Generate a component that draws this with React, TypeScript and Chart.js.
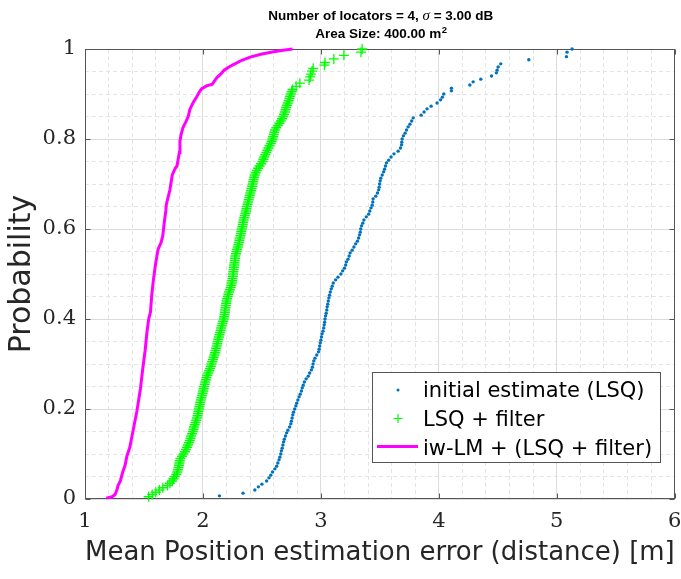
import React, { useEffect, useRef } from 'react';
import { Chart, registerables } from 'chart.js';

Chart.register(...registerables);

// ---------- data (x = mean position error [m], y = cumulative probability) ----------
const seriesNames = ['initial estimate (LSQ)', 'LSQ + filter', 'iw-LM + (LSQ + filter)'];
const titleLine1a = 'Number of locators = 4, ';
const titleSigma = 'σ';
const titleLine1b = ' = 3.00 dB';
const titleLine2 = 'Area Size: 400.00 m';
const titleSup = '2';
const xAxisTitle = 'Mean Position estimation error (distance) [m]';
const yAxisTitle = 'Probability';
const xMajorTicks = [1, 2, 3, 4, 5, 6];
const yMajorTicks = [0, 0.2, 0.4, 0.6, 0.8, 1];
const yTickLabels = ['0', '0.2', '0.4', '0.6', '0.8', '1'];

const initialEstimate: number[][] = [
  [2.14, 0.007], [2.34, 0.013], [2.44, 0.02], [2.47, 0.027], [2.5, 0.033], [2.54, 0.04], [2.56, 0.047],
  [2.575, 0.053], [2.59, 0.06], [2.61, 0.067], [2.625, 0.073], [2.635, 0.08], [2.645, 0.087], [2.652, 0.093],
  [2.66, 0.1], [2.665, 0.107], [2.672, 0.113], [2.678, 0.12], [2.684, 0.127], [2.69, 0.133], [2.7, 0.14],
  [2.71, 0.147], [2.72, 0.153], [2.735, 0.16], [2.745, 0.167], [2.75, 0.173], [2.756, 0.18], [2.762, 0.187],
  [2.768, 0.193], [2.778, 0.2], [2.788, 0.207], [2.795, 0.213], [2.805, 0.22], [2.815, 0.227], [2.825, 0.233],
  [2.835, 0.24], [2.842, 0.247], [2.85, 0.253], [2.86, 0.26], [2.875, 0.267], [2.893, 0.273], [2.905, 0.28],
  [2.92, 0.287], [2.928, 0.293], [2.934, 0.3], [2.94, 0.307], [2.95, 0.313], [2.965, 0.32], [2.98, 0.327],
  [2.985, 0.333], [2.99, 0.34], [2.995, 0.347], [3.0, 0.353], [3.005, 0.36], [3.01, 0.367], [3.018, 0.373],
  [3.024, 0.38], [3.028, 0.387], [3.032, 0.393], [3.035, 0.4], [3.04, 0.407], [3.045, 0.413], [3.05, 0.42],
  [3.053, 0.427], [3.058, 0.433], [3.063, 0.44], [3.068, 0.447], [3.073, 0.453], [3.08, 0.46], [3.088, 0.467],
  [3.096, 0.473], [3.105, 0.48], [3.125, 0.487], [3.145, 0.493], [3.17, 0.5], [3.185, 0.507], [3.2, 0.513],
  [3.21, 0.52], [3.217, 0.527], [3.23, 0.533], [3.24, 0.54], [3.248, 0.547], [3.265, 0.553], [3.28, 0.56],
  [3.295, 0.567], [3.31, 0.573], [3.32, 0.58], [3.328, 0.587], [3.334, 0.593], [3.338, 0.6], [3.345, 0.607],
  [3.355, 0.613], [3.365, 0.62], [3.385, 0.627], [3.405, 0.633], [3.415, 0.64], [3.425, 0.647], [3.435, 0.653],
  [3.44, 0.66], [3.443, 0.667], [3.465, 0.673], [3.48, 0.68], [3.49, 0.687], [3.494, 0.693], [3.498, 0.7],
  [3.503, 0.707], [3.508, 0.713], [3.52, 0.72], [3.532, 0.727], [3.54, 0.733], [3.548, 0.74], [3.556, 0.747],
  [3.575, 0.753], [3.595, 0.76], [3.62, 0.767], [3.655, 0.773], [3.675, 0.78], [3.684, 0.787], [3.686, 0.793],
  [3.689, 0.8], [3.7, 0.807], [3.714, 0.813], [3.726, 0.82], [3.74, 0.827], [3.755, 0.833], [3.77, 0.84],
  [3.783, 0.847], [3.85, 0.853], [3.875, 0.86], [3.9, 0.867], [3.935, 0.873], [3.985, 0.88], [4.015, 0.887],
  [4.03, 0.893], [4.042, 0.9], [4.107, 0.907], [4.107, 0.913], [4.263, 0.92], [4.291, 0.927], [4.356, 0.933],
  [4.447, 0.94], [4.488, 0.947], [4.494, 0.953], [4.503, 0.96], [4.525, 0.967], [4.763, 0.976], [5.082, 0.983],
  [5.087, 0.993], [5.13, 1.0],
];

const lsqFilter: number[][] = [
  [1.54, 0.005], [1.57, 0.01], [1.6, 0.015], [1.63, 0.02], [1.66, 0.025], [1.7, 0.03], [1.72, 0.035],
  [1.74, 0.04], [1.75, 0.045], [1.76, 0.05], [1.775, 0.055], [1.782, 0.06], [1.788, 0.065], [1.793, 0.07],
  [1.797, 0.075], [1.8, 0.08], [1.804, 0.085], [1.81, 0.09], [1.822, 0.095], [1.835, 0.1], [1.847, 0.105],
  [1.856, 0.11], [1.864, 0.115], [1.873, 0.12], [1.88, 0.125], [1.888, 0.13], [1.895, 0.135], [1.9, 0.14],
  [1.908, 0.145], [1.914, 0.15], [1.92, 0.155], [1.924, 0.16], [1.93, 0.165], [1.937, 0.17], [1.943, 0.175],
  [1.95, 0.18], [1.954, 0.185], [1.958, 0.19], [1.962, 0.195], [1.966, 0.2], [1.97, 0.205], [1.974, 0.21],
  [1.977, 0.215], [1.982, 0.22], [1.987, 0.225], [1.992, 0.23], [1.997, 0.235], [2.002, 0.24], [2.006, 0.245],
  [2.01, 0.25], [2.015, 0.255], [2.02, 0.26], [2.025, 0.265], [2.03, 0.27], [2.037, 0.275], [2.045, 0.28],
  [2.053, 0.285], [2.06, 0.29], [2.067, 0.295], [2.073, 0.3], [2.079, 0.305], [2.085, 0.31], [2.091, 0.315],
  [2.097, 0.32], [2.102, 0.325], [2.107, 0.33], [2.112, 0.335], [2.117, 0.34], [2.122, 0.345], [2.126, 0.35],
  [2.13, 0.355], [2.135, 0.36], [2.14, 0.365], [2.145, 0.37], [2.15, 0.375], [2.155, 0.38], [2.16, 0.385],
  [2.166, 0.39], [2.171, 0.395], [2.176, 0.4], [2.18, 0.405], [2.183, 0.41], [2.186, 0.415], [2.188, 0.42],
  [2.191, 0.425], [2.194, 0.43], [2.197, 0.435], [2.2, 0.44], [2.205, 0.445], [2.21, 0.45], [2.216, 0.455],
  [2.222, 0.46], [2.228, 0.465], [2.235, 0.47], [2.24, 0.475], [2.245, 0.48], [2.248, 0.485], [2.25, 0.49],
  [2.253, 0.495], [2.255, 0.5], [2.258, 0.505], [2.26, 0.51], [2.263, 0.515], [2.265, 0.52], [2.268, 0.525],
  [2.27, 0.53], [2.273, 0.535], [2.275, 0.54], [2.28, 0.545], [2.285, 0.55], [2.29, 0.555], [2.296, 0.56],
  [2.3, 0.565], [2.305, 0.57], [2.309, 0.575], [2.313, 0.58], [2.318, 0.585], [2.322, 0.59], [2.326, 0.595],
  [2.33, 0.6], [2.334, 0.605], [2.337, 0.61], [2.341, 0.615], [2.345, 0.62], [2.35, 0.625], [2.355, 0.63],
  [2.36, 0.635], [2.365, 0.64], [2.369, 0.645], [2.373, 0.65], [2.378, 0.655], [2.383, 0.66], [2.388, 0.665],
  [2.393, 0.67], [2.398, 0.675], [2.402, 0.68], [2.407, 0.685], [2.412, 0.69], [2.417, 0.695], [2.422, 0.7],
  [2.426, 0.705], [2.43, 0.71], [2.435, 0.715], [2.44, 0.72], [2.447, 0.725], [2.455, 0.73], [2.468, 0.735],
  [2.48, 0.74], [2.493, 0.745], [2.505, 0.75], [2.513, 0.755], [2.52, 0.76], [2.528, 0.765], [2.537, 0.77],
  [2.546, 0.775], [2.555, 0.78], [2.565, 0.785], [2.575, 0.79], [2.583, 0.795], [2.59, 0.8], [2.595, 0.805],
  [2.6, 0.81], [2.605, 0.815], [2.61, 0.82], [2.622, 0.825], [2.635, 0.83], [2.648, 0.835], [2.66, 0.84],
  [2.67, 0.845], [2.68, 0.85], [2.688, 0.855], [2.695, 0.86], [2.7, 0.865], [2.705, 0.87], [2.712, 0.875],
  [2.72, 0.88], [2.727, 0.885], [2.733, 0.89], [2.739, 0.895], [2.745, 0.9], [2.752, 0.905], [2.76, 0.91],
  [2.79, 0.917], [2.822, 0.924], [2.9, 0.931], [2.91, 0.938], [2.915, 0.944], [2.925, 0.951], [2.935, 0.957],
  [3.03, 0.964], [3.035, 0.97], [3.11, 0.978], [3.195, 0.986], [3.34, 0.993], [3.35, 1.0],
];

const iwLM: number[][] = [
  [1.18, 0.002], [1.23, 0.005], [1.255, 0.01], [1.27, 0.02], [1.28, 0.03], [1.3, 0.04], [1.32, 0.06],
  [1.34, 0.075], [1.355, 0.095], [1.38, 0.115], [1.41, 0.155], [1.44, 0.195], [1.455, 0.22], [1.47, 0.245],
  [1.49, 0.29], [1.51, 0.33], [1.525, 0.37], [1.54, 0.4], [1.555, 0.415], [1.565, 0.45], [1.58, 0.487],
  [1.6, 0.525], [1.62, 0.555], [1.645, 0.57], [1.66, 0.585], [1.67, 0.61], [1.685, 0.64], [1.69, 0.655],
  [1.72, 0.687], [1.74, 0.72], [1.765, 0.735], [1.78, 0.74], [1.8, 0.77], [1.805, 0.795], [1.815, 0.81],
  [1.83, 0.825], [1.855, 0.838], [1.875, 0.85], [1.89, 0.866], [1.9, 0.872], [1.92, 0.882], [1.945, 0.893],
  [1.97, 0.905], [1.99, 0.912], [2.03, 0.918], [2.08, 0.922], [2.1, 0.93], [2.12, 0.937], [2.15, 0.944],
  [2.18, 0.953], [2.22, 0.96], [2.27, 0.967], [2.33, 0.975], [2.4, 0.982], [2.5, 0.989], [2.6, 0.994],
  [2.68, 0.997], [2.76, 1.0],
];

// ---------- styles ----------
const BLUE = '#0072BD';
const GREEN = '#00FF00';
const MAGENTA = '#FF00FF';
const AXIS = '#555555';
const TEXT = '#262626';
const GRID_MAJOR = '#dcdcdc';
const GRID_MINOR = '#e4e4e4';

const near = (arr: number[], v: number) => arr.some((t) => Math.abs(t - v) < 1e-6);
const toPts = (a: number[][]) => a.map(([x, y]) => ({ x, y }));

const decorPlugin = {
  id: 'decor',
  beforeDatasetsDraw(chart: any) {
    const { ctx, chartArea, scales } = chart;
    const { left, right, top, bottom } = chartArea;
    ctx.save();
    ctx.strokeStyle = AXIS;
    ctx.lineWidth = 1;
    const L = Math.round(left) + 0.5, R = Math.round(right) - 0.5;
    const T = Math.round(top) + 0.5, B = Math.round(bottom) - 0.5;
    ctx.strokeRect(L, T, R - L, B - T);
    ctx.beginPath();
    const tl = 5;
    xMajorTicks.forEach((v) => {
      const px = Math.round(scales.x.getPixelForValue(v)) + 0.5;
      ctx.moveTo(px, B); ctx.lineTo(px, B - tl);
      ctx.moveTo(px, T); ctx.lineTo(px, T + tl);
    });
    yMajorTicks.forEach((v) => {
      const py = Math.round(scales.y.getPixelForValue(v)) + 0.5;
      ctx.moveTo(L, py); ctx.lineTo(L + tl, py);
      ctx.moveTo(R, py); ctx.lineTo(R - tl, py);
    });
    ctx.stroke();
    ctx.restore();
  },
  afterDraw(chart: any) {
    const { ctx, chartArea } = chart;
    ctx.save();
    // ---- title (two lines, mixed fonts) ----
    const cx = (chartArea.left + chartArea.right) / 2 + 1;
    const bold = 'bold 13.5px "Liberation Sans", Arial, sans-serif';
    const ital = 'italic 15px "Liberation Serif", serif';
    ctx.fillStyle = '#000';
    ctx.textBaseline = 'alphabetic';
    ctx.textAlign = 'left';
    const parts1 = [
      { t: titleLine1a, f: bold },
      { t: titleSigma, f: ital },
      { t: titleLine1b, f: bold },
    ];
    let w1 = 0;
    parts1.forEach((p) => { ctx.font = p.f; w1 += ctx.measureText(p.t).width; });
    let x = cx - w1 / 2;
    parts1.forEach((p) => { ctx.font = p.f; ctx.fillText(p.t, x, 19.5); x += ctx.measureText(p.t).width; });
    const supFont = 'bold 9.5px "Liberation Sans", Arial, sans-serif';
    ctx.font = bold;
    const w2a = ctx.measureText(titleLine2).width;
    ctx.font = supFont;
    const w2b = ctx.measureText(titleSup).width;
    x = cx - (w2a + w2b) / 2;
    ctx.font = bold;
    ctx.fillText(titleLine2, x, 38);
    ctx.font = supFont;
    ctx.fillText(titleSup, x + w2a + 0.5, 32.5);

    // ---- legend ----
    const lx = 372, ly = 372, lw = 288, lh = 90;
    ctx.fillStyle = '#ffffff';
    ctx.fillRect(lx, ly, lw, lh);
    ctx.strokeStyle = AXIS;
    ctx.lineWidth = 1;
    ctx.strokeRect(lx + 0.5, ly + 0.5, lw, lh);
    const sx = 398;
    ctx.fillStyle = BLUE;
    ctx.beginPath();
    ctx.arc(sx, 390, 1.5, 0, Math.PI * 2);
    ctx.fill();
    ctx.strokeStyle = GREEN;
    ctx.lineWidth = 1.2;
    ctx.beginPath();
    ctx.moveTo(sx - 4.5, 418.5); ctx.lineTo(sx + 4.5, 418.5);
    ctx.moveTo(sx, 414); ctx.lineTo(sx, 423);
    ctx.stroke();
    ctx.strokeStyle = MAGENTA;
    ctx.lineWidth = 3;
    ctx.beginPath();
    ctx.moveTo(377, 446.5); ctx.lineTo(418, 446.5);
    ctx.stroke();
    ctx.fillStyle = '#000';
    ctx.font = '21px "DejaVu Sans", sans-serif';
    ctx.textBaseline = 'alphabetic';
    const baselines = [397, 426, 455];
    seriesNames.forEach((n, i) => ctx.fillText(n, 423, baselines[i]));
    ctx.restore();
  },
};

export default function App() {
  const ref = useRef<HTMLCanvasElement | null>(null);
  useEffect(() => {
    if (!ref.current) return;
    const chart = new Chart(ref.current, {
      type: 'scatter',
      data: {
        datasets: [
          {
            label: seriesNames[0],
            data: toPts(initialEstimate),
            pointStyle: 'circle',
            pointRadius: 1.7,
            pointBackgroundColor: BLUE,
            pointBorderWidth: 0,
            borderColor: BLUE,
            backgroundColor: BLUE,
            showLine: false,
            clip: false,
          },
          {
            label: seriesNames[1],
            data: toPts(lsqFilter),
            pointStyle: 'cross',
            pointRadius: 5,
            pointBorderColor: GREEN,
            pointBorderWidth: 1.3,
            borderColor: GREEN,
            backgroundColor: GREEN,
            showLine: false,
            clip: false,
          },
          {
            label: seriesNames[2],
            data: toPts(iwLM),
            showLine: true,
            pointRadius: 0,
            borderColor: MAGENTA,
            backgroundColor: MAGENTA,
            borderWidth: 3,
            tension: 0,
            clip: false,
          } as any,
        ],
      },
      options: {
        responsive: false,
        animation: false,
        devicePixelRatio: 1,
        layout: { padding: { top: 49, right: 6, left: 0, bottom: 0 } },
        plugins: {
          legend: { display: false },
          title: { display: false },
          tooltip: { enabled: false },
        },
        scales: {
          x: {
            type: 'linear',
            min: 1,
            max: 6,
            ticks: {
              stepSize: 0.2,
              autoSkip: false,
              maxRotation: 0,
              maxTicksLimit: 200,
              padding: 10,
              color: TEXT,
              font: { family: '"DejaVu Serif", serif', size: 21 },
              callback: (v: any) => (near(xMajorTicks, Number(v)) ? String(Math.round(Number(v))) : ''),
            },
            grid: {
              drawTicks: false,
              lineWidth: 1,
              color: (c: any) => (c.tick && near(xMajorTicks, c.tick.value) ? GRID_MAJOR : GRID_MINOR),
            },
            border: {
              display: false,
              dash: (c: any) => (c.tick && near(xMajorTicks, c.tick.value) ? [] : [4, 3]),
            },
            title: {
              display: true,
              text: xAxisTitle,
              color: TEXT,
              font: { family: '"DejaVu Sans", sans-serif', size: 26 },
              padding: { top: 0, bottom: 10 },
            },
            afterFit: (s: any) => { s.height = 80; s.paddingLeft = 0; s.paddingRight = 0; },
          },
          y: {
            type: 'linear',
            min: 0,
            max: 1,
            ticks: {
              stepSize: 0.05,
              autoSkip: false,
              maxTicksLimit: 200,
              padding: 9,
              color: TEXT,
              font: { family: '"DejaVu Serif", serif', size: 21 },
              callback: (v: any) => {
                const n = Number(v);
                const i = yMajorTicks.findIndex((t) => Math.abs(t - n) < 1e-6);
                return i >= 0 ? yTickLabels[i] : '';
              },
            },
            grid: {
              drawTicks: false,
              lineWidth: 1,
              color: (c: any) => (c.tick && near(yMajorTicks, c.tick.value) ? GRID_MAJOR : GRID_MINOR),
            },
            border: {
              display: false,
              dash: (c: any) => (c.tick && near(yMajorTicks, c.tick.value) ? [] : [4, 3]),
            },
            title: {
              display: true,
              text: yAxisTitle,
              color: TEXT,
              font: { family: '"DejaVu Sans", sans-serif', size: 30 },
              padding: { top: 4, bottom: 0 },
            },
            afterFit: (s: any) => { s.width = 85; s.paddingTop = 0; s.paddingBottom = 0; },
          },
        },
      } as any,
      plugins: [decorPlugin],
    });
    return () => chart.destroy();
  }, []);

  return (
    <div style={{ position: 'absolute', left: 0, top: 0, width: 681, height: 579, background: '#fff' }}>
      <canvas ref={ref} width={681} height={579} style={{ display: 'block', width: 681, height: 579 }} />
    </div>
  );
}
